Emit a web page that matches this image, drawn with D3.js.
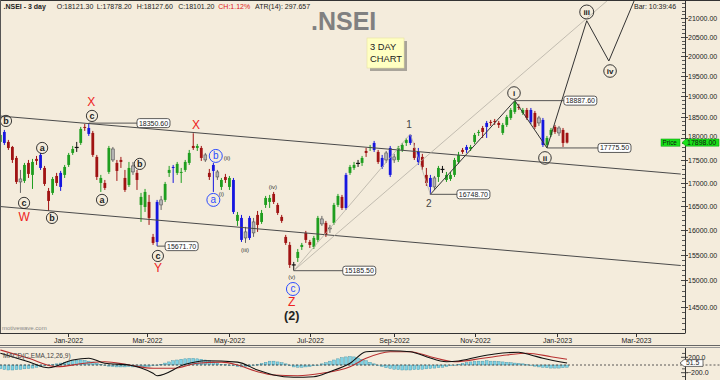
<!DOCTYPE html>
<html>
<head>
<meta charset="utf-8">
<script src="https://cdn.jsdelivr.net/npm/d3@7/dist/d3.min.js"></script>
<style>
html,body{margin:0;padding:0;background:#f4ecdc;}
svg{display:block;}
text{font-family:"Liberation Sans",Arial,sans-serif;}
</style>
</head>
<body>
<svg id="chart" width="720" height="380"></svg>
<script>
// ---------------- DATA ----------------
const barStart = "2021-11-10";      // first 3-day bar
const barStepDays = 3;

const opens = [17913,18144,17913,17798,17549,17082,17039,17437,17171,17527,
17617,17325,16822,16779,17148,16908,17171,17392,17662,17775,
17890,18261,18237,18121,17572,16995,16995,17237,17752,17437,
17504,17104,16951,17370,17215,16522,16479,16586,15858,15756,
16522,16629,17215,17325,17215,17215,17281,17437,17821,17775,
17775,17617,17215,17392,17237,16908,17126,16908,17060,16187,
16249,15960,15837,16166,16312,16166,16522,16586,16757,16522,
16270,15858,15696,15279,15436,15655,15940,15756,15655,15797,
16125,16146,16042,16146,16522,16693,16458,17215,17325,17415,
17437,17707,17775,17890,17685,17549,17504,17171,17572,17504,
17730,17890,18075,17775,17459,17572,17171,17104,16908,17126,
17281,17060,17082,17171,17459,17730,17730,17752,17913,18121,
18237,18261,18379,18402,18355,18121,18308,18473,18616,18735,
18592,18663,18663,18592,18355,18426,17844,18075,18261,18121,
18191,18121.3];
const highs = [18144,18191,17959,17821,17594,17281,17437,17504,17527,17594,
17662,17370,16886,17126,17215,17259,17392,17662,17821,17913,
18261,18331,18350.6,18168,17617,17171,17060,17821,17798,17504,
17572,17281,17459,17459,17281,16779,16865,16736,15919,16629,
16714,17017,17370,17392,17459,17325,17504,17730,18114,17867,
17821,17662,17303,17437,17281,17104,17193,17148,17104,16374,
16312,16063,16291,16249,16395,16416,16714,16736,16800,16565,
16312,15899,15756,15357,15615,15736,15981,15797,15878,16291,
16291,16187,16104,16565,16757,16736,17215,17392,17459,17504,
17594,17775,17844,17936,17730,17617,17707,17821,17640,17821,
17890,18005,18096,17890,17775,17640,17325,17171,17148,17370,
17370,17237,17237,17549,17685,17775,17844,17844,18121,18191,
18284,18402,18426,18449,18402,18355,18545,18711,18887.6,18808,
18711,18711,18711,18640,18521,18473,18051,18237,18308,18284,
18237,18127.6];
const lows = [17867,17844,17730,17437,16973,16779,16995,17104,16865,17392,
17281,16930,16395,16736,16930,16822,17104,17347,17617,17685,
17844,18168,18051,17572,17060,16800,16843,17193,17459,17039,
17325,16800,16908,17171,16843,16166,16374,16104,15696,15671.7,
16416,16586,17126,16995,17171,16995,17237,17392,17730,17707,
17482,17459,17060,16800,17060,16843,16995,16843,16332,16084,
15756,15736,15797,15858,15960,16125,16458,16458,16543,16312,
16146,15696,15239,15185.5,15357,15595,15736,15635,15615,15756,
16084,15858,15940,16104,16479,16416,16416,17171,17281,17347,
17370,17572,17707,17685,17415,17303,17437,17126,17437,17459,
17685,17821,17844,17504,17392,17281,16930,16748.7,16843,17017,
17215,17017,17039,17126,17415,17640,17662,17707,17867,18051,
18005,18005,18284,18308,18237,18075,18261,18426,18568,18663,
18545,18426,18331,18214,18284,17798,17775.5,18028,18098,18051,
17798,17878.2];
const closes = [18075,17890,17775,17504,17017,17017,17392,17193,17459,17482,
17325,16973,16607,17082,16995,17215,17347,17617,17752,17798,
18214,18237,18098,17617,17126,17104,16886,17775,17504,17259,
17459,16843,17325,17237,17060,16693,16800,16249,15736,16586,
16629,16973,17281,17347,17415,17237,17459,17662,17775,17821,
17549,17504,17126,17259,17126,17060,17060,17104,16374,16312,
15797,15837,16249,15940,16104,16353,16671,16671,16586,16353,
16187,15736,15298,15318,15555,15696,15797,15696,15837,16249,
16228,15899,16022,16522,16714,16458,17171,17347,17392,17437,
17549,17662,17798,17730,17459,17347,17662,17775,17504,17775,
17844,17959,17890,17549,17685,17347,16995,16908,17104,17325,
17303,17171,17171,17504,17617,17685,17798,17798,18075,18144,
18144,18355,18355,18379,18308,18308,18497,18663,18856,18711,
18663,18473,18379,18261,18473,17844,18005,18191,18144,18237,
17890,17898];
// bar category: u=up, d=down, w=wide-range, i=inside, x=doji
const barClass = ("uwdddiudud"+"wddudwuuux"+"udwdduduid"+"dduiduuddw"+"iuuwuuuudu"+
  "didwiuduwu"+"wiwiduuudd"+"dddxuudduu"+"idiuudwuux"+"uduwdwiwiu"+
  "uuwdwddwiu"+"xuuuudwuuu"+"dwddduuuud"+"udwdiwuudi"+"dd").split("");

// MACD(12,26,9)
const macdBars   = [0,7,12,18,22,26,32,38,39,46,51,59,64,68,73,78,82,87,91,97,102,106,111,114,119,123,129,132,135,141];
const macdVals   = [304,86,-70,130,174,44,0,-216,-278,18,112,75,-130,-260,-320,-304,-174,44,346,372,346,216,86,104,216,286,330,260,174,51.5];
const signalBars = [0,7,14,21,26,32,38,43,49,55,59,64,68,74,80,87,91,97,102,107,113,120,126,131,137,141];
const signalVals = [390,174,-44,44,86,0,-86,-86,44,75,0,-174,-260,-278,-216,-44,174,346,346,216,86,174,260,304,216,148];
const histVals = [-100,-120,-130,-130,-120,-110,-100,-90,-80,-60,-40,-20,
  0,10,30,
  50,70,90,110,120,130,120,100,80,
  50,20,-10,-30,-40,-50,-50,-50,-40,-50,-50,-60,-50,-40,
  -20,0,20,
  50,80,110,130,150,160,170,170,160,150,130,110,80,50,
  20,10,0,-20,-40,-50,-40,-30,-10,10,
  40,70,100,100,80,60,30,
  -20,-50,-60,-60,-50,-40,-20,0,
  30,60,100,130,160,190,210,220,210,180,150,110,70,30,
  -10,-40,-70,-90,-110,-120,-130,-130,-130,-120,-120,-110,-100,-90,-80,-70,-60,-40,-20,0,20,
  40,60,80,90,100,100,110,100,100,90,80,70,60,50,40,30,10,
  -10,-30,-50,-60,-70,-80,-80,-80,-70,-60];

// channel lines
const channelBars  = [-0.1, 169.3];
const upperChannel = [18519, 17190];
const lowerChannel = [16489, 15287];

// wave paths
const waveBars   = [107, 128, 136, 145.9, 151.4, 160.9];
const wavePrices = [16748.7, 18887.6, 17775.5, 20927, 19873, 22330];
const minorWaveBars   = [73, 102, 107];
const minorWavePrices = [15185.5, 18096, 16748.7];
const trendBars   = [73, 151.2];
const trendPrices = [15185.5, 21490];

// price callouts
const calloutPrices  = [18350.60, 15671.70, 15185.50, 16748.70, 18887.60, 17775.50];
const calloutFromBar = [22, 39, 73, 107, 128, 136];
const calloutBoxBar  = [34, 41, 85.2, 113.6, 140.2, 148.7];

// wave labels
const labelText  = ["b","X","c","a","c","W","b","a","b","X","b","(ii)","a","(i)","c","Y","(iii)","(iv)","(v)","c","Z","(2)","1","2","i","ii","iii","iv"];
const labelBar   = [1.4,22.6,22.8,10.4,5.9,5.9,12.85,25.3,34.7,48.7,53.6,56.4,53.0,55.0,39.2,39.2,60.9,67.8,72.5,72.8,72.5,72.5,101.7,106.6,127.8,135.5,145.9,151.7];
const labelPrice = [18402,18856,18521,17775,16565,16270,16249,16629,17415,18308,17594,17549,16629,16757,15475,15239,15595,16908,15064,14833,14597,14327,18308,16543,19073,17549,21162,19619];
const labelKind  = ["circ","red","circ","circ","circ","red","circ","circ","circ","red","blue","small","blue","small","circ","red","small","small","small","blue","red","major","minor","minor","roman","roman","roman","roman"];

// axes
const priceTicks = [14500,15000,15500,16000,16500,17000,17500,18000,18500,19000,19500,20000,20500,21000];
const monthTicks = ["2022-01-01","2022-03-01","2022-05-01","2022-07-01","2022-09-01","2022-11-01","2023-01-01","2023-03-01"];
const monthLabels = ["Jan-2022","Mar-2022","May-2022","Jul-2022","Sep-2022","Nov-2022","Jan-2023","Mar-2023"];
const macdTicks = [200, -200];

const headerItems = [".NSEI - 3 day","O:18121.30","L:17878.20","H:18127.60","C:18101.20","CH:1.12%","ATR(14): 297.657"];
const symbolName = ".NSEI";
const noteLines = ["3 DAY","CHART"];

// ---------------- LAYOUT ----------------
const svg = d3.select("#chart");
const BG = "#f4ecdc";
const P = {left:0, right:685, top:1, bottom:333};
const M = {top:348, bottom:380};
const DAY = 864e5;

const x = d3.scaleTime().domain([new Date(2022,0,1), new Date(2023,0,1)]).range([68,557]);
const y = d3.scaleLog().domain([14500,21000]).range([306.7,18]);
const ym = d3.scaleLinear().domain([-200,200]).range([372.7,357.3]);
const t0 = new Date(barStart + "T00:00:00").getTime();
const xb = i => x(new Date(t0 + (i*barStepDays + barStepDays/2)*DAY));

svg.append("rect").attr("width",720).attr("height",380).attr("fill",BG);

const defs = svg.append("defs");
defs.append("clipPath").attr("id","clipP").append("rect")
  .attr("x",P.left).attr("y",P.top).attr("width",P.right-P.left).attr("height",P.bottom-P.top);
defs.append("clipPath").attr("id","clipM").append("rect")
  .attr("x",0).attr("y",M.top).attr("width",P.right).attr("height",M.bottom-M.top);

const gP = svg.append("g").attr("clip-path","url(#clipP)");

// watermark / title
svg.append("text").attr("x",311).attr("y",30).attr("font-size",25).attr("font-weight","bold")
  .attr("fill","#808080").text(symbolName);

// candles
const bars = opens.map((o,i)=>({i,o,h:highs[i],l:lows[i],c:closes[i],k:barClass[i]}));
const candleColor = {u:"#1f9e1f", d:"#a01313", w:"#1616e0", i:"#b4b4b4", x:"#111111"};
const wickColor = {u:"#1f9e1f", d:"#a01313", w:"#1616e0", i:"#666666", x:"#111111"};
const cg = gP.append("g");
cg.selectAll("line.wick").data(bars).join("line").attr("class","wick")
  .attr("x1",d=>xb(d.i)).attr("x2",d=>xb(d.i))
  .attr("y1",d=>y(d.h)).attr("y2",d=>y(d.l))
  .attr("stroke",d=>wickColor[d.k]).attr("stroke-width",1);
cg.selectAll("rect.body").data(bars.filter(d=>d.k!=="x")).join("rect").attr("class","body")
  .attr("x",d=>xb(d.i)-1.4).attr("width",2.8)
  .attr("y",d=>Math.min(y(d.o),y(d.c)))
  .attr("height",d=>Math.max(1,Math.abs(y(d.o)-y(d.c))))
  .attr("fill",d=>candleColor[d.k])
  .attr("stroke",d=>d.k==="i"?"#555":"none").attr("stroke-width",0.6);
cg.selectAll("line.doji").data(bars.filter(d=>d.k==="x")).join("line").attr("class","doji")
  .attr("x1",d=>xb(d.i)-2).attr("x2",d=>xb(d.i)+2)
  .attr("y1",d=>y((d.o+d.c)/2)).attr("y2",d=>y((d.o+d.c)/2))
  .attr("stroke","#111").attr("stroke-width",1.2);

// channel lines
const lineGen = d3.line();
[upperChannel, lowerChannel].forEach(ch=>{
  gP.append("path").attr("d", lineGen(channelBars.map((b,j)=>[xb(b), y(ch[j])])))
    .attr("fill","none").attr("stroke","#4a4a4a").attr("stroke-width",1);
});

// thin grey wave lines
gP.append("path").attr("d", lineGen(minorWaveBars.map((b,j)=>[xb(b), y(minorWavePrices[j])])))
  .attr("fill","none").attr("stroke","#b5b0a5").attr("stroke-width",0.8);
gP.append("path").attr("d", lineGen(trendBars.map((b,j)=>[xb(b), y(trendPrices[j])])))
  .attr("fill","none").attr("stroke","#b5b0a5").attr("stroke-width",0.8);

// main wave path
gP.append("path").attr("d", lineGen(waveBars.map((b,j)=>[xb(b), y(wavePrices[j])])))
  .attr("fill","none").attr("stroke","#333").attr("stroke-width",1);

// callouts
calloutPrices.forEach((p,j)=>{
  const yy = y(p), x0 = xb(calloutFromBar[j]), x1 = xb(calloutBoxBar[j]);
  gP.append("line").attr("x1",x0).attr("x2",x1).attr("y1",yy).attr("y2",yy)
    .attr("stroke","#444").attr("stroke-width",0.9);
  gP.append("rect").attr("x",x1).attr("y",yy-4.5).attr("width",33).attr("height",9)
    .attr("rx",2.5).attr("fill","#ffffff").attr("stroke","#333").attr("stroke-width",0.8);
  gP.append("text").attr("x",x1+16.5).attr("y",yy+2.5).attr("text-anchor","middle")
    .attr("font-size",7).attr("fill","#222").text(d3.format(".2f")(p));
});

// labels
const serif = '"Liberation Serif","DejaVu Serif",serif';
labelText.forEach((t,j)=>{
  const cx = xb(labelBar[j]), cy = y(labelPrice[j]), k = labelKind[j];
  if(k==="circ"||k==="blue"||k==="roman"){
    const col = k==="blue" ? "#2d4cff" : "#222";
    const r = k==="blue" ? 6.5 : (k==="roman" ? (t.length>2?7:6.3) : 5.6);
    gP.append("circle").attr("cx",cx).attr("cy",cy).attr("r",r)
      .attr("fill","none").attr("stroke",col).attr("stroke-width",k==="blue"?1:0.9);
    gP.append("text").attr("x",cx).attr("y",cy).attr("dy","0.33em").attr("text-anchor","middle")
      .attr("font-family",serif).attr("font-weight", k==="blue"?"normal":"bold")
      .attr("font-size", k==="blue"?10:(k==="roman"?8:9)).attr("fill",col).text(t);
  } else if(k==="red"){
    gP.append("text").attr("x",cx).attr("y",cy).attr("dy","0.36em").attr("text-anchor","middle")
      .attr("font-size",12).attr("fill","#ee2222").text(t);
  } else if(k==="small"){
    gP.append("text").attr("x",cx).attr("y",cy).attr("dy","0.33em").attr("text-anchor","middle")
      .attr("font-family",serif).attr("font-size",6).attr("fill","#333").text(t);
  } else if(k==="major"){
    gP.append("text").attr("x",cx).attr("y",cy).attr("dy","0.35em").attr("text-anchor","middle")
      .attr("font-family",serif).attr("font-weight","bold").attr("font-size",12.5).attr("fill","#222").text(t);
  } else {
    gP.append("text").attr("x",cx).attr("y",cy).attr("dy","0.35em").attr("text-anchor","middle")
      .attr("font-family",serif).attr("font-size",10).attr("fill","#444").text(t);
  }
});

// note box
svg.append("rect").attr("x",370).attr("y",41).attr("width",37).attr("height",30).attr("fill","#a9a49a");
svg.append("rect").attr("x",367).attr("y",38).attr("width",37).attr("height",30).attr("fill","#ffffc2").attr("stroke","#e6e2a0").attr("stroke-width",0.6);
noteLines.forEach((t,j)=>svg.append("text").attr("x",370).attr("y",50+j*11.5).attr("font-size",9.3).attr("fill","#222").text(t));

// frame
svg.append("line").attr("x1",0).attr("x2",720).attr("y1",0.5).attr("y2",0.5).attr("stroke","#333");
svg.append("line").attr("x1",0.5).attr("x2",0.5).attr("y1",0).attr("y2",P.bottom).attr("stroke","#555");
svg.append("line").attr("x1",0).attr("x2",P.right).attr("y1",P.bottom+0.5).attr("y2",P.bottom+0.5).attr("stroke","#333");
svg.append("line").attr("x1",P.right+0.5).attr("x2",P.right+0.5).attr("y1",0).attr("y2",P.bottom+0.5).attr("stroke","#333");

// right price axis
const ax = svg.append("g");
d3.range(14100, 21500, 100).forEach(v=>{
  if(priceTicks.includes(v)) return;
  const yy = Math.round(y(v))+0.5;
  if(yy<2||yy>P.bottom) return;
  ax.append("line").attr("x1",P.right-3).attr("x2",P.right).attr("y1",yy).attr("y2",yy).attr("stroke","#333").attr("stroke-width",0.8);
});
const last = closes.length-1;
const py = y(closes[last]);
priceTicks.forEach(v=>{
  const yy = Math.round(y(v))+0.5;
  ax.append("line").attr("x1",P.right-4).attr("x2",P.right+3).attr("y1",yy).attr("y2",yy).attr("stroke","#333").attr("stroke-width",0.9);
  // the label that sits under the live-price tag peeks out above it
  const under = Math.abs(yy-py) < 7;
  ax.append("text").attr("x",P.right+3).attr("y", under ? py-3.8 : yy+2.6).attr("font-size",7).attr("fill","#222").text(d3.format(".2f")(v));
});

// bottom time axis
monthTicks.forEach((m,j)=>{
  const xx = Math.round(x(new Date(m+"T00:00:00")))+0.5;
  svg.append("line").attr("x1",xx).attr("x2",xx).attr("y1",P.bottom).attr("y2",P.bottom+4).attr("stroke","#333");
  svg.append("text").attr("x",xx).attr("y",342.5).attr("text-anchor","middle").attr("font-size",7).attr("fill","#222").text(monthLabels[j]);
});

// current price tags
svg.append("rect").attr("x",661).attr("y",py-3.6).attr("width",19).attr("height",7.2).attr("fill","#19e019").attr("stroke","#0a9a0a").attr("stroke-width",0.5);
svg.append("text").attr("x",662.5).attr("y",py+2.4).attr("font-size",6.3).attr("fill","#111").text("Price");
svg.append("path").attr("d",`M${P.right-3},${py} L${P.right+1},${py-3.6} L719,${py-3.6} L719,${py+3.6} L${P.right+1},${py+3.6} Z`)
  .attr("fill","#19e019").attr("stroke","#0a9a0a").attr("stroke-width",0.5);
svg.append("text").attr("x",P.right+2).attr("y",py+2.5).attr("font-size",7).attr("fill","#111").text(d3.format(".2f")(closes[last]));

// separators
svg.append("line").attr("x1",0).attr("x2",720).attr("y1",345.5).attr("y2",345.5).attr("stroke","#666").attr("stroke-width",1);
svg.append("line").attr("x1",0).attr("x2",720).attr("y1",347.5).attr("y2",347.5).attr("stroke","#999").attr("stroke-width",1);

// MACD panel
const gM = svg.append("g").attr("clip-path","url(#clipM)");
gM.selectAll("rect.hist").data(histVals).join("rect").attr("class","hist")
  .attr("x",(v,i)=>xb(i)-1.4).attr("width",2.8)
  .attr("y",v=>Math.min(ym(0),ym(v))).attr("height",v=>Math.max(0.5,Math.abs(ym(v)-ym(0))))
  .attr("fill","#7fd2e4").attr("stroke","#3f8ea2").attr("stroke-width",0.4);
gM.append("line").attr("x1",0).attr("x2",P.right).attr("y1",ym(0)).attr("y2",ym(0))
  .attr("stroke","#333").attr("stroke-width",0.8).attr("stroke-dasharray","2,2");
const curve = d3.line().curve(d3.curveMonotoneX);
gM.append("path").attr("d",curve(signalBars.map((b,j)=>[xb(b), ym(signalVals[j])])))
  .attr("fill","none").attr("stroke","#b83030").attr("stroke-width",1.1);
gM.append("path").attr("d",curve(macdBars.map((b,j)=>[xb(b), ym(macdVals[j])])))
  .attr("fill","none").attr("stroke","#111").attr("stroke-width",1.1);
svg.append("text").attr("x",3).attr("y",357.5).attr("font-size",6.5).attr("fill","#444").text("MACD(C,EMA,12,26,9)");
svg.append("line").attr("x1",P.right+0.5).attr("x2",P.right+0.5).attr("y1",M.top).attr("y2",380).attr("stroke","#333");
svg.append("line").attr("x1",P.right+0.5).attr("x2",720).attr("y1",ym(0)).attr("y2",ym(0))
  .attr("stroke","#333").attr("stroke-width",0.8).attr("stroke-dasharray","2,2");
[-300,-100,100,300].forEach(v=>{
  const yy=ym(v); if(yy<M.top||yy>380) return;
  svg.append("line").attr("x1",P.right-3).attr("x2",P.right).attr("y1",yy).attr("y2",yy).attr("stroke","#333").attr("stroke-width",0.8);
});
macdTicks.forEach(v=>{
  const yy = ym(v);
  svg.append("line").attr("x1",P.right-4).attr("x2",P.right+3).attr("y1",yy).attr("y2",yy).attr("stroke","#333").attr("stroke-width",0.9);
  svg.append("text").attr("x",P.right+(v<0?2:3)).attr("y",yy+2.5).attr("font-size",7).attr("fill","#222").text(d3.format(".1f")(v));
});
const mv = macdVals[macdVals.length-1], my = ym(mv);
svg.append("path").attr("d",`M${P.right-5},${my} L${P.right-1},${my-3.4} L703,${my-3.4} L703,${my+3.4} L${P.right-1},${my+3.4} Z`)
  .attr("fill","#ffffff").attr("stroke","#333").attr("stroke-width",0.7);
svg.append("text").attr("x",P.right+1).attr("y",my+2.4).attr("font-size",6.8).attr("fill","#222").text(d3.format(".1f")(mv));

// header
const headerX = [3.5,56.7,96.7,136.7,178.3,218.3,255];
headerItems.forEach((t,j)=>{
  svg.append("text").attr("x",headerX[j]).attr("y",9).attr("font-size",7)
    .attr("font-weight", j===0?"bold":"normal")
    .attr("fill", t.startsWith("CH")?"#e02020":"#222").text(t);
});
svg.append("text").attr("x",634).attr("y",9).attr("font-size",7).attr("fill","#222").text("Bar: 10:39:46");
svg.append("text").attr("x",2).attr("y",330).attr("font-size",6).attr("fill","#888").text("motivewave.com");
</script>
</body>
</html>
